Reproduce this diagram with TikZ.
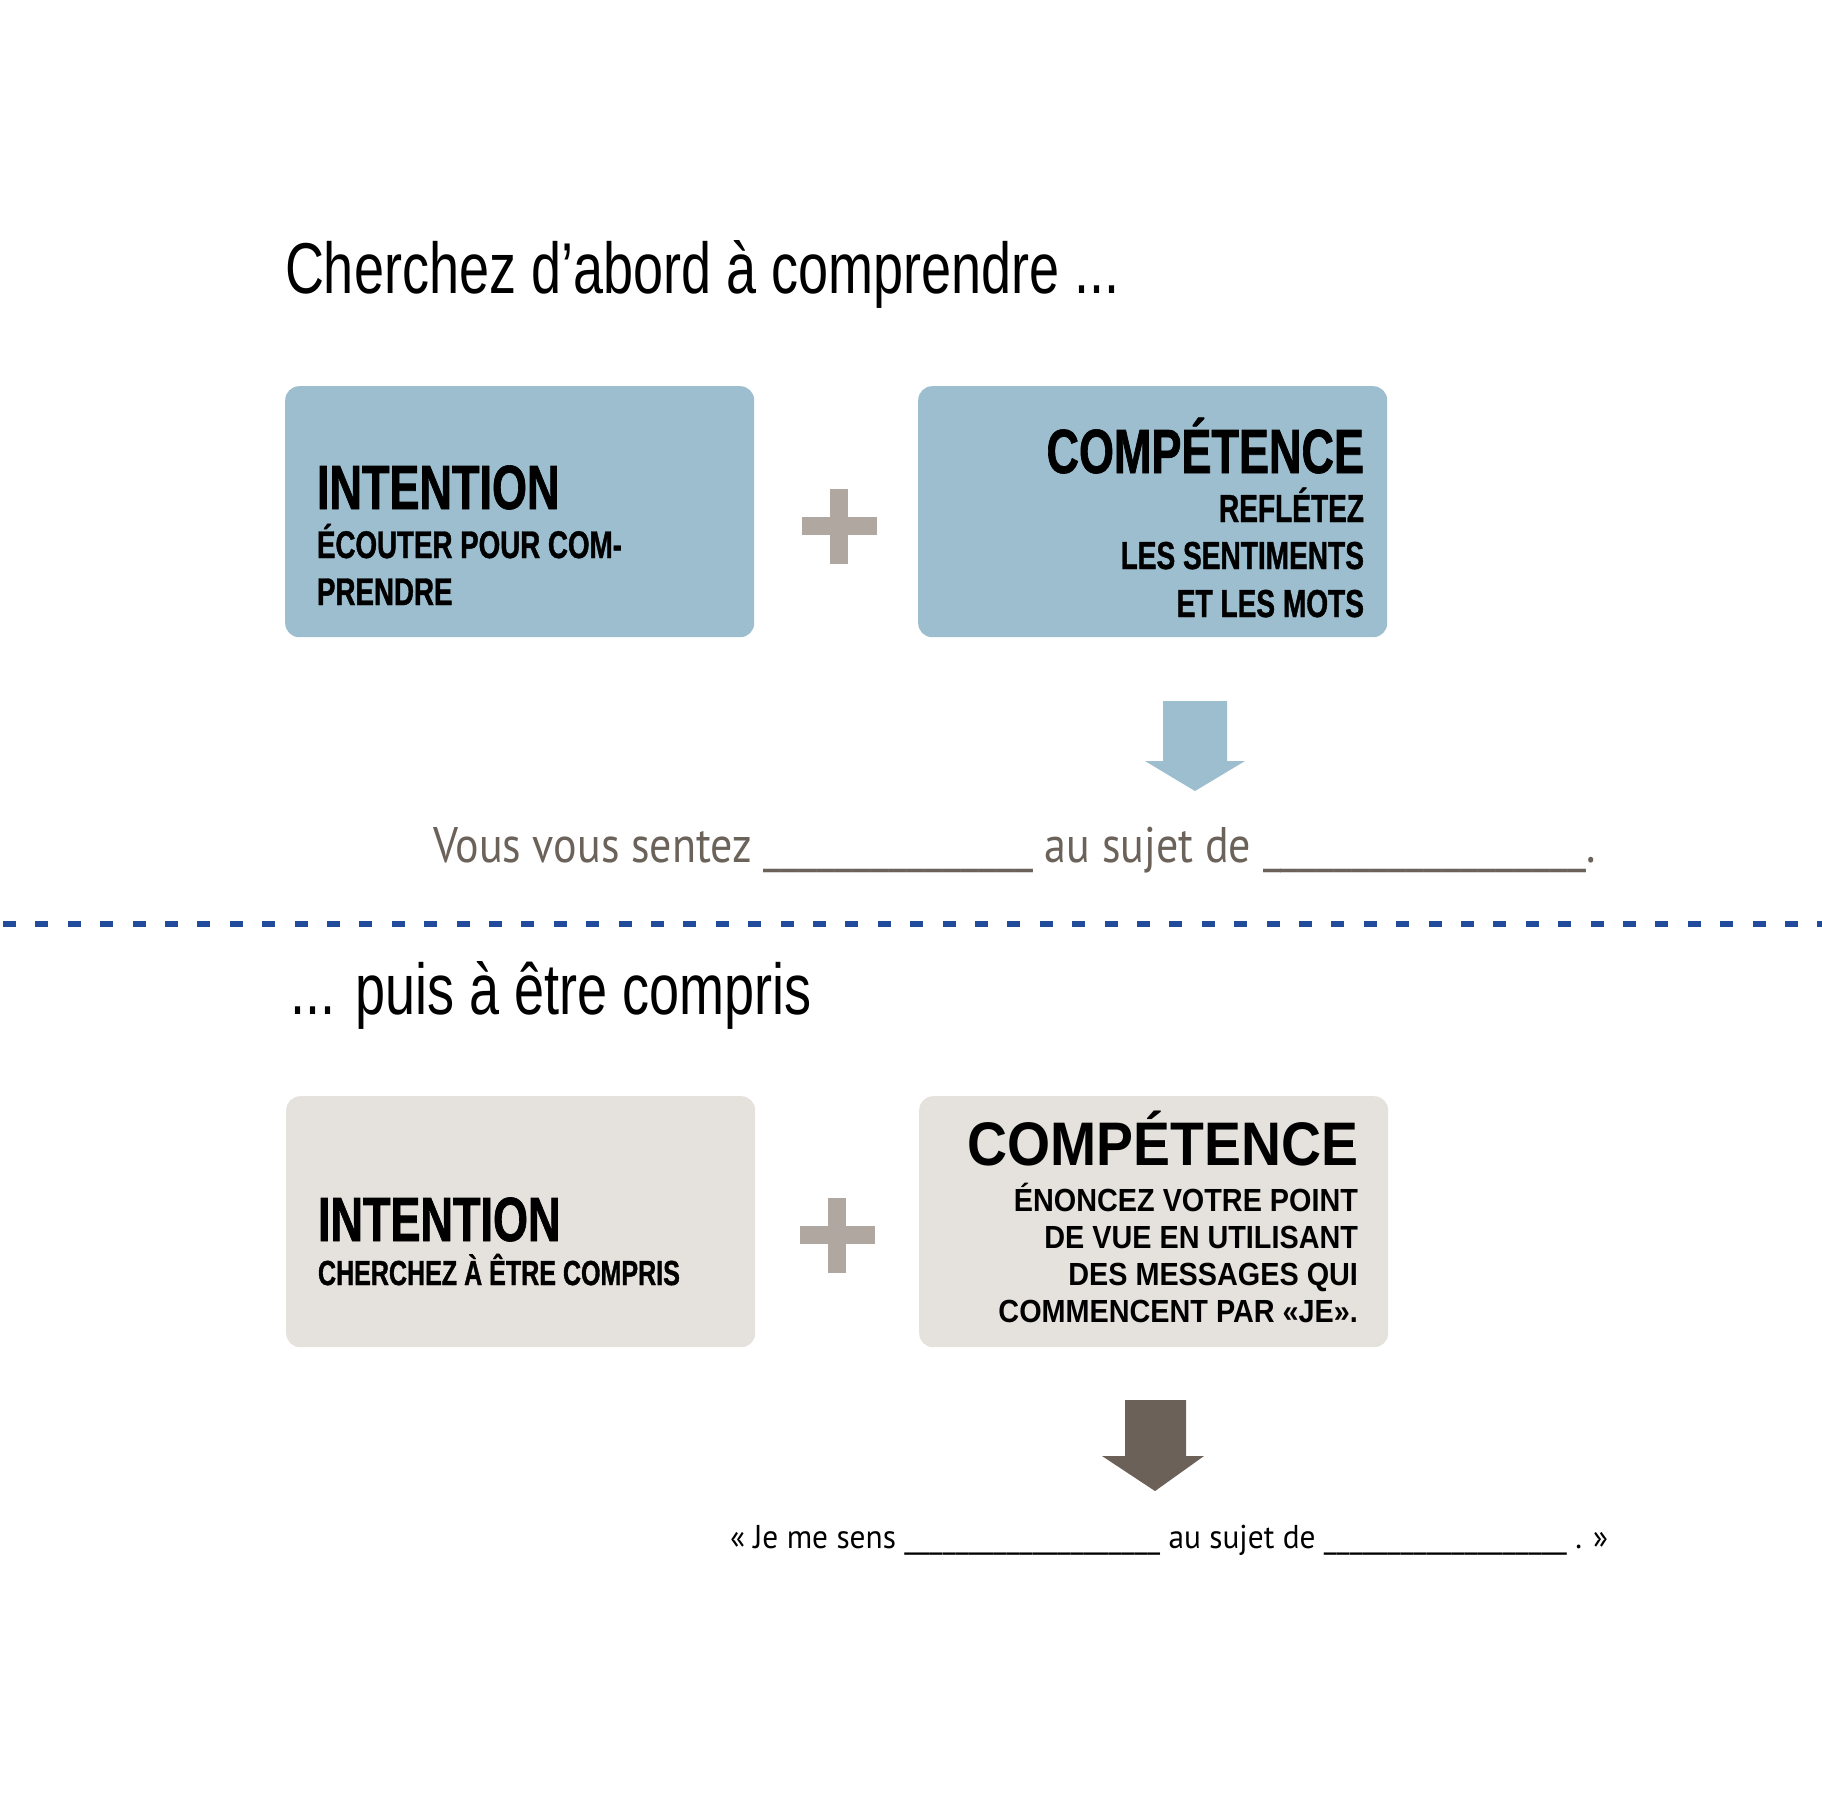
\documentclass[tikz,border=0pt]{standalone}
\usepackage{fontspec}
\setmainfont{Liberation Sans}
\newfontfamily\titlefont{Liberation Sans}[FakeStretch=0.75]
\newfontfamily\headfont{Liberation Sans}[FakeStretch=0.72, BoldFeatures={FakeBold=1}]
\newfontfamily\widefont{Liberation Sans}[FakeStretch=0.9]
\newfontfamily\bodyfont{PT Sans}[FakeStretch=0.88]
\newfontfamily\bodyfontb{PT Sans}[FakeStretch=0.95]
\definecolor{boxblue}{HTML}{9CBECF}
\definecolor{boxbeige}{HTML}{E5E1DC}
\definecolor{plusgray}{HTML}{B0A7A1}
\definecolor{arrowdark}{HTML}{6B6158}
\definecolor{txtbrown}{HTML}{6B625A}
\definecolor{dotblue}{HTML}{224B9B}
\tikzset{
  panel/.style={draw=none, rounded corners=14pt, minimum width=469pt, minimum height=251pt, anchor=north west, inner sep=0pt},
  lbl/.style={inner sep=0pt, outer sep=0pt},
  titletxt/.style={lbl, anchor=base west, font=\titlefont\fontsize{72}{80}\selectfont},
  headL/.style={lbl, anchor=base west, font=\headfont\bfseries\fontsize{62.5}{70}\selectfont},
  subL/.style={lbl, anchor=base west, font=\headfont\bfseries\fontsize{38.5}{45}\selectfont},
  headR/.style={lbl, anchor=base east, font=\headfont\bfseries\fontsize{62.5}{70}\selectfont},
  subR/.style={lbl, anchor=base east, font=\headfont\bfseries\fontsize{39}{45}\selectfont},
  headW/.style={lbl, anchor=base east, font=\widefont\bfseries\fontsize{61.5}{70}\selectfont},
  subW/.style={lbl, anchor=base east, font=\widefont\bfseries\fontsize{32}{38}\selectfont},
  plussign/.style={fill=plusgray, draw=none},
}
\begin{document}
\begin{tikzpicture}[x=1pt,y=-1pt]
\useasboundingbox[fill=white] (0,0) rectangle (1822,1810);

% ---- top section ----
\node[titletxt] (t1) at (285,293) {Cherchez d’abord à comprendre ...};

\node[panel, fill=boxblue] (tl) at (285,386) {};
\node[panel, fill=boxblue] (tr) at (918,386) {};

\node[headL] (tlh) at (317,509) {INTENTION};
\node[subL] (tl1) at (317,558) {ÉCOUTER POUR COM-};
\node[subL] (tl2) at (317,605) {PRENDRE};

\node[headR] (trh) at (1364,473) {COMPÉTENCE};
\node[subR] (tr1) at (1364,522) {REFLÉTEZ};
\node[subR] (tr2) at (1364,569) {LES SENTIMENTS};
\node[subR] (tr3) at (1364,617) {ET LES MOTS};

% plus
\fill[plussign] (839-37.5,526-9) rectangle (839+37.5,526+9);
\fill[plussign] (839-9,526-37.5) rectangle (839+9,526+37.5);

% arrow
\fill[boxblue] (1163,701) -- (1227,701) -- (1227,761) -- (1245,761) -- (1195,791) -- (1145,761) -- (1163,761) -- cycle;

\node[lbl, anchor=base west, text=txtbrown, font=\bodyfont\fontsize{50}{60}\selectfont] (s1) at (433,862)
  {Vous vous sentez \_\_\_\_\_\_\_\_\_\_\_\_\_\_\_ au sujet de \_\_\_\_\_\_\_\_\_\_\_\_\_\_\_\_\_\_.};

% dotted separator
\coordinate (d1) at (3,924);
\coordinate (d2) at (1822,924);
\draw[dotblue, line width=6pt, dash pattern=on 13pt off 19.4pt] (d1) -- (d2);

% ---- bottom section ----
\node[titletxt] (t2) at (290,1014) {... puis à être compris};

\node[panel, fill=boxbeige] (bl) at (286,1096) {};
\node[panel, fill=boxbeige] (br) at (919,1096) {};

\node[headL] (blh) at (318,1241) {INTENTION};
\node[subL, font=\headfont\bfseries\fontsize{34.8}{42}\selectfont] (bl1) at (318,1285) {CHERCHEZ À ÊTRE COMPRIS};

\node[headW] (brh) at (1358,1165) {COMPÉTENCE};
\node[subW] (br1) at (1358,1211) {ÉNONCEZ VOTRE POINT};
\node[subW] (br2) at (1358,1248) {DE VUE EN UTILISANT};
\node[subW] (br3) at (1358,1285) {DES MESSAGES QUI};
\node[subW] (br4) at (1358,1322) {COMMENCENT PAR «JE».};

\fill[plussign] (837-37.5,1235-9) rectangle (837+37.5,1235+9);
\fill[plussign] (837-9,1235-37.5) rectangle (837+9,1235+37.5);

\fill[arrowdark] (1125,1400) -- (1186,1400) -- (1186,1456) -- (1204,1456) -- (1155,1491) -- (1102,1456) -- (1125,1456) -- cycle;

\node[lbl, anchor=base west, text=black, font=\bodyfontb\fontsize{33}{40}\selectfont] (s2) at (730,1548)
  {« Je me sens \_\_\_\_\_\_\_\_\_\_\_\_\_\_\_\_\_\_\_\_ au sujet de \_\_\_\_\_\_\_\_\_\_\_\_\_\_\_\_\_\_\_ . »};
\end{tikzpicture}
\end{document}
